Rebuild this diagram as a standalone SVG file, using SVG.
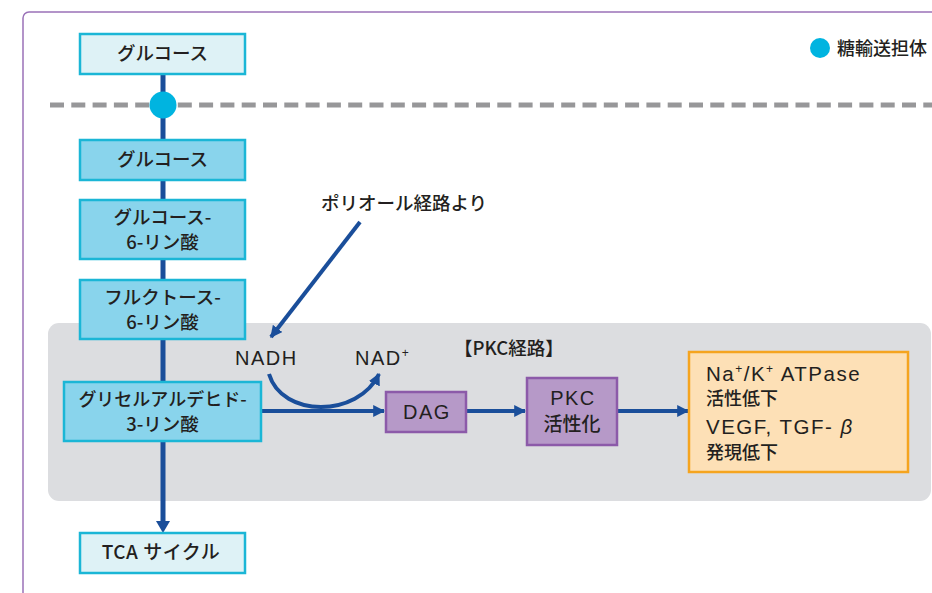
<svg xmlns="http://www.w3.org/2000/svg" width="932" height="593" viewBox="0 0 932 593">
<defs>
<style>
.t{font-family:"Liberation Sans","Noto Sans CJK JP",sans-serif;fill:#231f20;letter-spacing:1.5px;}
.jp{font-family:"Noto Sans CJK JP","Liberation Sans",sans-serif;fill:#231f20;font-weight:500;}
.boxL{fill:#def2f6;stroke:#1bb6d6;stroke-width:2.5;}
.boxM{fill:#89d4ec;stroke:#1bb6d6;stroke-width:2.5;}
.boxP{fill:#b699c8;stroke:#8c5aa9;stroke-width:2.5;}
.boxO{fill:#fde0b6;stroke:#f5a41f;stroke-width:2.5;}
.ln{stroke:#1a4e9a;stroke-width:5;fill:none;}
.ln4{stroke:#1a4e9a;stroke-width:4;fill:none;}
</style>
<marker id="ah" viewBox="0 0 10 10" refX="9" refY="5" markerWidth="3" markerHeight="3" orient="auto" markerUnits="strokeWidth">
<path d="M0,0 L10,5 L0,10 Z" fill="#1a4e9a"/>
</marker>
</defs>
<rect width="932" height="593" fill="#ffffff"/>
<rect x="23" y="12" width="1000" height="1000" rx="6" fill="#ffffff" stroke="#9a72b8" stroke-width="1.5"/>
<rect x="48" y="323" width="883" height="178" rx="11" fill="#dcdde0"/>
<line x1="50" y1="105" x2="932" y2="105" stroke="#979799" stroke-width="5" stroke-dasharray="14 7.3"/>

<g id="connectors">
<line class="ln" x1="163" y1="74" x2="163" y2="522"/>
<path d="M156,521 L170,521 L163,533 Z" fill="#1a4e9a"/>
<line class="ln4" x1="261" y1="411" x2="384" y2="411" marker-end="url(#ah)"/>
<line class="ln4" x1="466" y1="411" x2="525" y2="411" marker-end="url(#ah)"/>
<line class="ln4" x1="617" y1="411" x2="688" y2="411" marker-end="url(#ah)"/>
<line class="ln4" x1="360" y1="222" x2="271" y2="337" marker-end="url(#ah)"/>
<path class="ln4" d="M269,374 C282,418 358,418 379,374" marker-end="url(#ah)"/>
</g>

<g id="transporter"><circle cx="163" cy="105" r="13.5" fill="#00b4e0"/></g>

<g id="legend">
<circle cx="820" cy="48" r="10" fill="#00b4e0"/>
<text class="jp" x="837" y="55" font-size="18">糖輸送担体</text>
</g>

<g id="glucose-out">
<rect class="boxL" x="80" y="34" width="165" height="40"/>
<text class="jp" x="162.5" y="60" font-size="18.5" text-anchor="middle">グルコース</text>
</g>
<g id="glucose-in">
<rect class="boxM" x="80" y="140" width="165" height="40"/>
<text class="jp" x="162.5" y="166" font-size="18.5" text-anchor="middle">グルコース</text>
</g>
<g id="g6p">
<rect class="boxM" x="80" y="200" width="165" height="59"/>
<text class="jp" x="162.5" y="224" font-size="18.5" text-anchor="middle">グルコース-</text>
<text class="jp" x="162.5" y="249" font-size="18.5" text-anchor="middle">6-リン酸</text>
</g>
<g id="f6p">
<rect class="boxM" x="80" y="280" width="165" height="59"/>
<text class="jp" x="162.5" y="304" font-size="18.5" text-anchor="middle">フルクトース-</text>
<text class="jp" x="162.5" y="329" font-size="18.5" text-anchor="middle">6-リン酸</text>
</g>
<g id="ga3p">
<rect class="boxM" x="64" y="382" width="197" height="59"/>
<text class="jp" x="162.5" y="406" font-size="18" text-anchor="middle">グリセルアルデヒド-</text>
<text class="jp" x="162.5" y="431" font-size="18.5" text-anchor="middle">3-リン酸</text>
</g>
<g id="tca">
<rect class="boxL" x="80" y="533" width="165" height="40"/>
<text class="jp" x="161" y="559" font-size="19" text-anchor="middle" letter-spacing="0.5">TCA サイクル</text>
</g>

<g id="polyol">
<text class="jp" x="404" y="210" font-size="18.5" text-anchor="middle">ポリオール経路より</text>
</g>
<g id="nadh"><text class="t" x="235" y="365" font-size="20">NADH</text></g>
<g id="nad"><text class="t" x="355" y="365" font-size="20">NAD<tspan font-size="12" dy="-8">+</tspan></text></g>
<g id="pkc-label"><text class="jp" x="454" y="355" font-size="18.5">【PKC経路】</text></g>

<g id="dag">
<rect class="boxP" x="386" y="392" width="80" height="40"/>
<text class="t" x="427" y="419" font-size="20" text-anchor="middle">DAG</text>
</g>
<g id="pkc">
<rect class="boxP" x="527" y="378" width="90" height="67"/>
<text class="t" x="573" y="405" font-size="20" text-anchor="middle" letter-spacing="2">PKC</text>
<text class="jp" x="572" y="431" font-size="19" text-anchor="middle">活性化</text>
</g>
<g id="effects">
<rect class="boxO" x="689" y="352" width="219" height="120"/>
<text class="t" x="706" y="381" font-size="20.5" letter-spacing="2.2">Na<tspan font-size="12" dy="-8">+</tspan><tspan dy="8">/K</tspan><tspan font-size="12" dy="-8">+</tspan><tspan dy="8"> ATPase</tspan></text>
<text class="jp" x="706" y="405" font-size="18">活性低下</text>
<text class="t" x="706" y="434" font-size="20.5" letter-spacing="1">VEGF, TGF- <tspan font-style="italic">β</tspan></text>
<text class="jp" x="706" y="459" font-size="18">発現低下</text>
</g>
</svg>
